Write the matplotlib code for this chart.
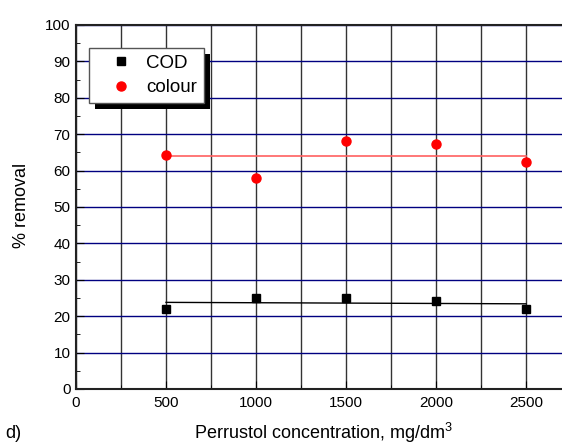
import matplotlib
matplotlib.use('Agg')
import matplotlib.pyplot as plt
from matplotlib.patches import Rectangle
from matplotlib.ticker import MultipleLocator

plt.rcParams['font.family'] = ['Liberation Sans', 'DejaVu Sans']
plt.rcParams['mathtext.fontset'] = 'custom'
plt.rcParams['mathtext.rm'] = 'Liberation Sans'

# Data
conc = [500, 1000, 1500, 2000, 2500]
cod = [22.0, 25.1, 25.1, 24.1, 22.0]
colour = [64.3, 58.0, 68.1, 67.4, 62.4]
cod_fit = [23.8, 23.4]
colour_fit = [64.1, 64.1]
fit_x = [500, 2500]

fig = plt.figure(figsize=(5.62, 4.45), dpi=100)
W, H = 562, 445
ax = fig.add_axes([76 / W, (H - 389) / H, (562 - 76) / W, (389 - 25) / H])

ax.set_xlim(0, 2700)
ax.set_ylim(0, 100)

# grid
ax.xaxis.set_major_locator(MultipleLocator(500))
ax.xaxis.set_minor_locator(MultipleLocator(250))
ax.yaxis.set_major_locator(MultipleLocator(10))
ax.yaxis.set_minor_locator(MultipleLocator(5))
ax.grid(True, axis='x', which='both', color='#333333', linewidth=1.0)
ax.grid(True, axis='y', which='major', color='#000080', linewidth=1.0)
ax.set_axisbelow(True)

ax.spines['right'].set_visible(False)
for s in ['left', 'bottom', 'top']:
    ax.spines[s].set_linewidth(1.5)
    ax.spines[s].set_color('#222222')

ax.tick_params(which='both', direction='in', labelsize=11)
ax.tick_params(which='major', length=6)
ax.tick_params(which='minor', length=3)
ax.tick_params(axis='x', pad=5)
ax.tick_params(axis='y', pad=4)

# fit lines and points
ax.plot(fit_x, cod_fit, color='black', linewidth=1.0, zorder=3)
ax.plot(fit_x, colour_fit, color='#ff6060', linewidth=1.2, zorder=3)
ax.plot(conc, cod, linestyle='none', marker='s', markersize=6, color='black', label='COD', zorder=4)
ax.plot(conc, colour, linestyle='none', marker='o', markersize=6.5, color='red', label='colour', zorder=4)

fig.text(22 / W, 1 - 205 / H, '% removal', fontsize=13, rotation=90, ha='center', va='center')
fig.text(323 / W, 1 - 433 / H, r'Perrustol concentration, mg/dm$^3$', fontsize=13, ha='center', va='center')
fig.text(5 / W, 1 - 433 / H, 'd)', fontsize=13, ha='left', va='center')

leg = ax.legend(loc='upper left', bbox_to_anchor=((89 - 76) / 486, (389 - 48) / 364),
                fancybox=False, framealpha=1, edgecolor='#555555', fontsize=13.5,
                borderpad=0.35, handletextpad=0.0, handlelength=2.7, labelspacing=0.4,
                borderaxespad=0)
leg.get_frame().set_linewidth(1.0)
leg.set_zorder(10)

# black drop shadow behind the legend box
fig.canvas.draw()
bb = leg.get_window_extent()
shadow = Rectangle((bb.x0 + 6, bb.y0 - 6), bb.width, bb.height, transform=None,
                   facecolor='black', edgecolor='none', zorder=9)
ax.add_artist(shadow)

fig.savefig('out.png', dpi=100)
